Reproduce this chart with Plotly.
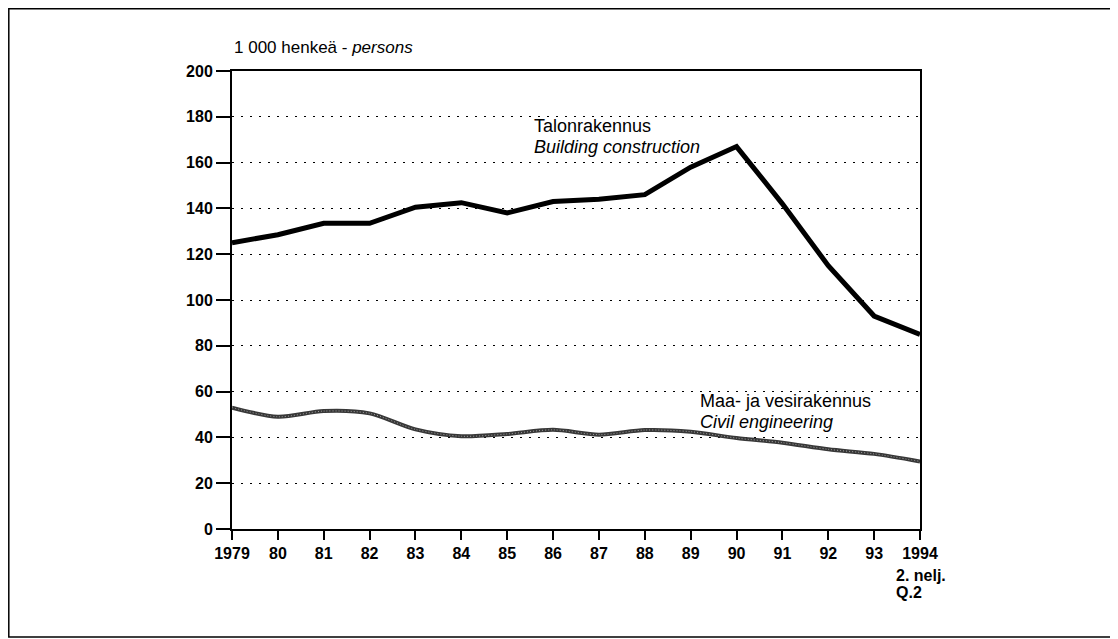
import plotly.graph_objects as go

years = list(range(1979, 1995))
tick_labels = ["1979", "80", "81", "82", "83", "84", "85", "86", "87", "88",
               "89", "90", "91", "92", "93", "1994"]
building = [125, 128.5, 133.5, 133.5, 140.5, 142.5, 138, 143, 144, 146,
            158, 167, 142, 115, 93, 85]
civil = [53, 49, 51.5, 50.5, 43.5, 40.5, 41.5, 43.3, 41.2, 43.2,
         42.5, 39.7, 37.7, 34.8, 32.8, 29.5]
y_ticks = list(range(0, 201, 20))

FONT = "Liberation Sans, Arial, Helvetica, sans-serif"

# page body has an 8px margin; figure coordinates are page coordinates minus 8
W, H = 1110, 631
L, T = 224, 63          # plot area left / top in figure px
PW, PH = 688, 458       # plot area width / height


def px(xp):
    return (xp - 8 - L) / PW


def py(yp):
    return (T + PH - (yp - 8)) / PH


fig = go.Figure()
fig.add_trace(go.Scatter(x=years, y=civil, mode="lines",
                         line=dict(color="#383838", width=4, shape="spline", smoothing=0.8),
                         hoverinfo="skip"))
fig.add_trace(go.Scatter(x=years, y=civil, mode="lines",
                         line=dict(color="#a0a0a0", width=1, shape="spline", smoothing=0.8, dash="1px,2px"),
                         hoverinfo="skip"))
fig.add_trace(go.Scatter(x=years, y=building, mode="lines",
                         line=dict(color="black", width=5),
                         hoverinfo="skip"))

fig.update_layout(
    width=W, height=H,
    margin=dict(l=L, r=W - L - PW, t=T, b=H - T - PH),
    paper_bgcolor="white", plot_bgcolor="white",
    showlegend=False,
    font=dict(family=FONT, color="black", size=16),
    xaxis=dict(range=[1979, 1994], tickmode="array", tickvals=years, ticktext=tick_labels,
               ticks="outside", ticklen=9, tickwidth=1.5, tickcolor="black",
               showline=True, linecolor="black", linewidth=2, mirror=True,
               showgrid=False, zeroline=False,
               tickfont=dict(family=FONT, size=16, weight="bold")),
    yaxis=dict(range=[0, 200], tickmode="array", tickvals=y_ticks,
               ticks="outside", ticklen=14, tickwidth=1.5, tickcolor="black",
               showline=True, linecolor="black", linewidth=2, mirror=True,
               showgrid=True, gridcolor="black", gridwidth=1.3, griddash="2px,7px",
               zeroline=False,
               tickfont=dict(family=FONT, size=16, weight="bold")),
)

# outer frame
fig.add_shape(type="rect", xref="paper", yref="paper",
              x0=px(8.8), x1=px(1113),
              y0=py(637), y1=py(8.8),
              line=dict(color="black", width=1.5), layer="below")

annotations = [
    dict(text="1 000 henkeä - <i>persons</i>", x=0, y=py(47), xref="paper", yref="paper",
         xanchor="left", yanchor="middle", font=dict(size=17)),
    dict(text="Talonrakennus", x=1985.54, y=176, xanchor="left", yanchor="middle",
         font=dict(size=18)),
    dict(text="<i>Building construction</i>", x=1985.54, y=167, xanchor="left", yanchor="middle",
         font=dict(size=18)),
    dict(text="Maa- ja vesirakennus", x=1989.17, y=55.8, xanchor="left", yanchor="middle",
         font=dict(size=18)),
    dict(text="<i>Civil engineering</i>", x=1989.17, y=46.8, xanchor="left", yanchor="middle",
         font=dict(size=18)),
    dict(text="2. nelj.", x=px(894), y=py(575), xref="paper", yref="paper",
         xanchor="left", yanchor="middle", font=dict(size=16, weight="bold")),
    dict(text="Q.2", x=px(894), y=py(592), xref="paper", yref="paper",
         xanchor="left", yanchor="middle", font=dict(size=16, weight="bold")),
]
for a in annotations:
    a.setdefault("showarrow", False)
    fig.add_annotation(**a)

fig.write_html("out.html")
